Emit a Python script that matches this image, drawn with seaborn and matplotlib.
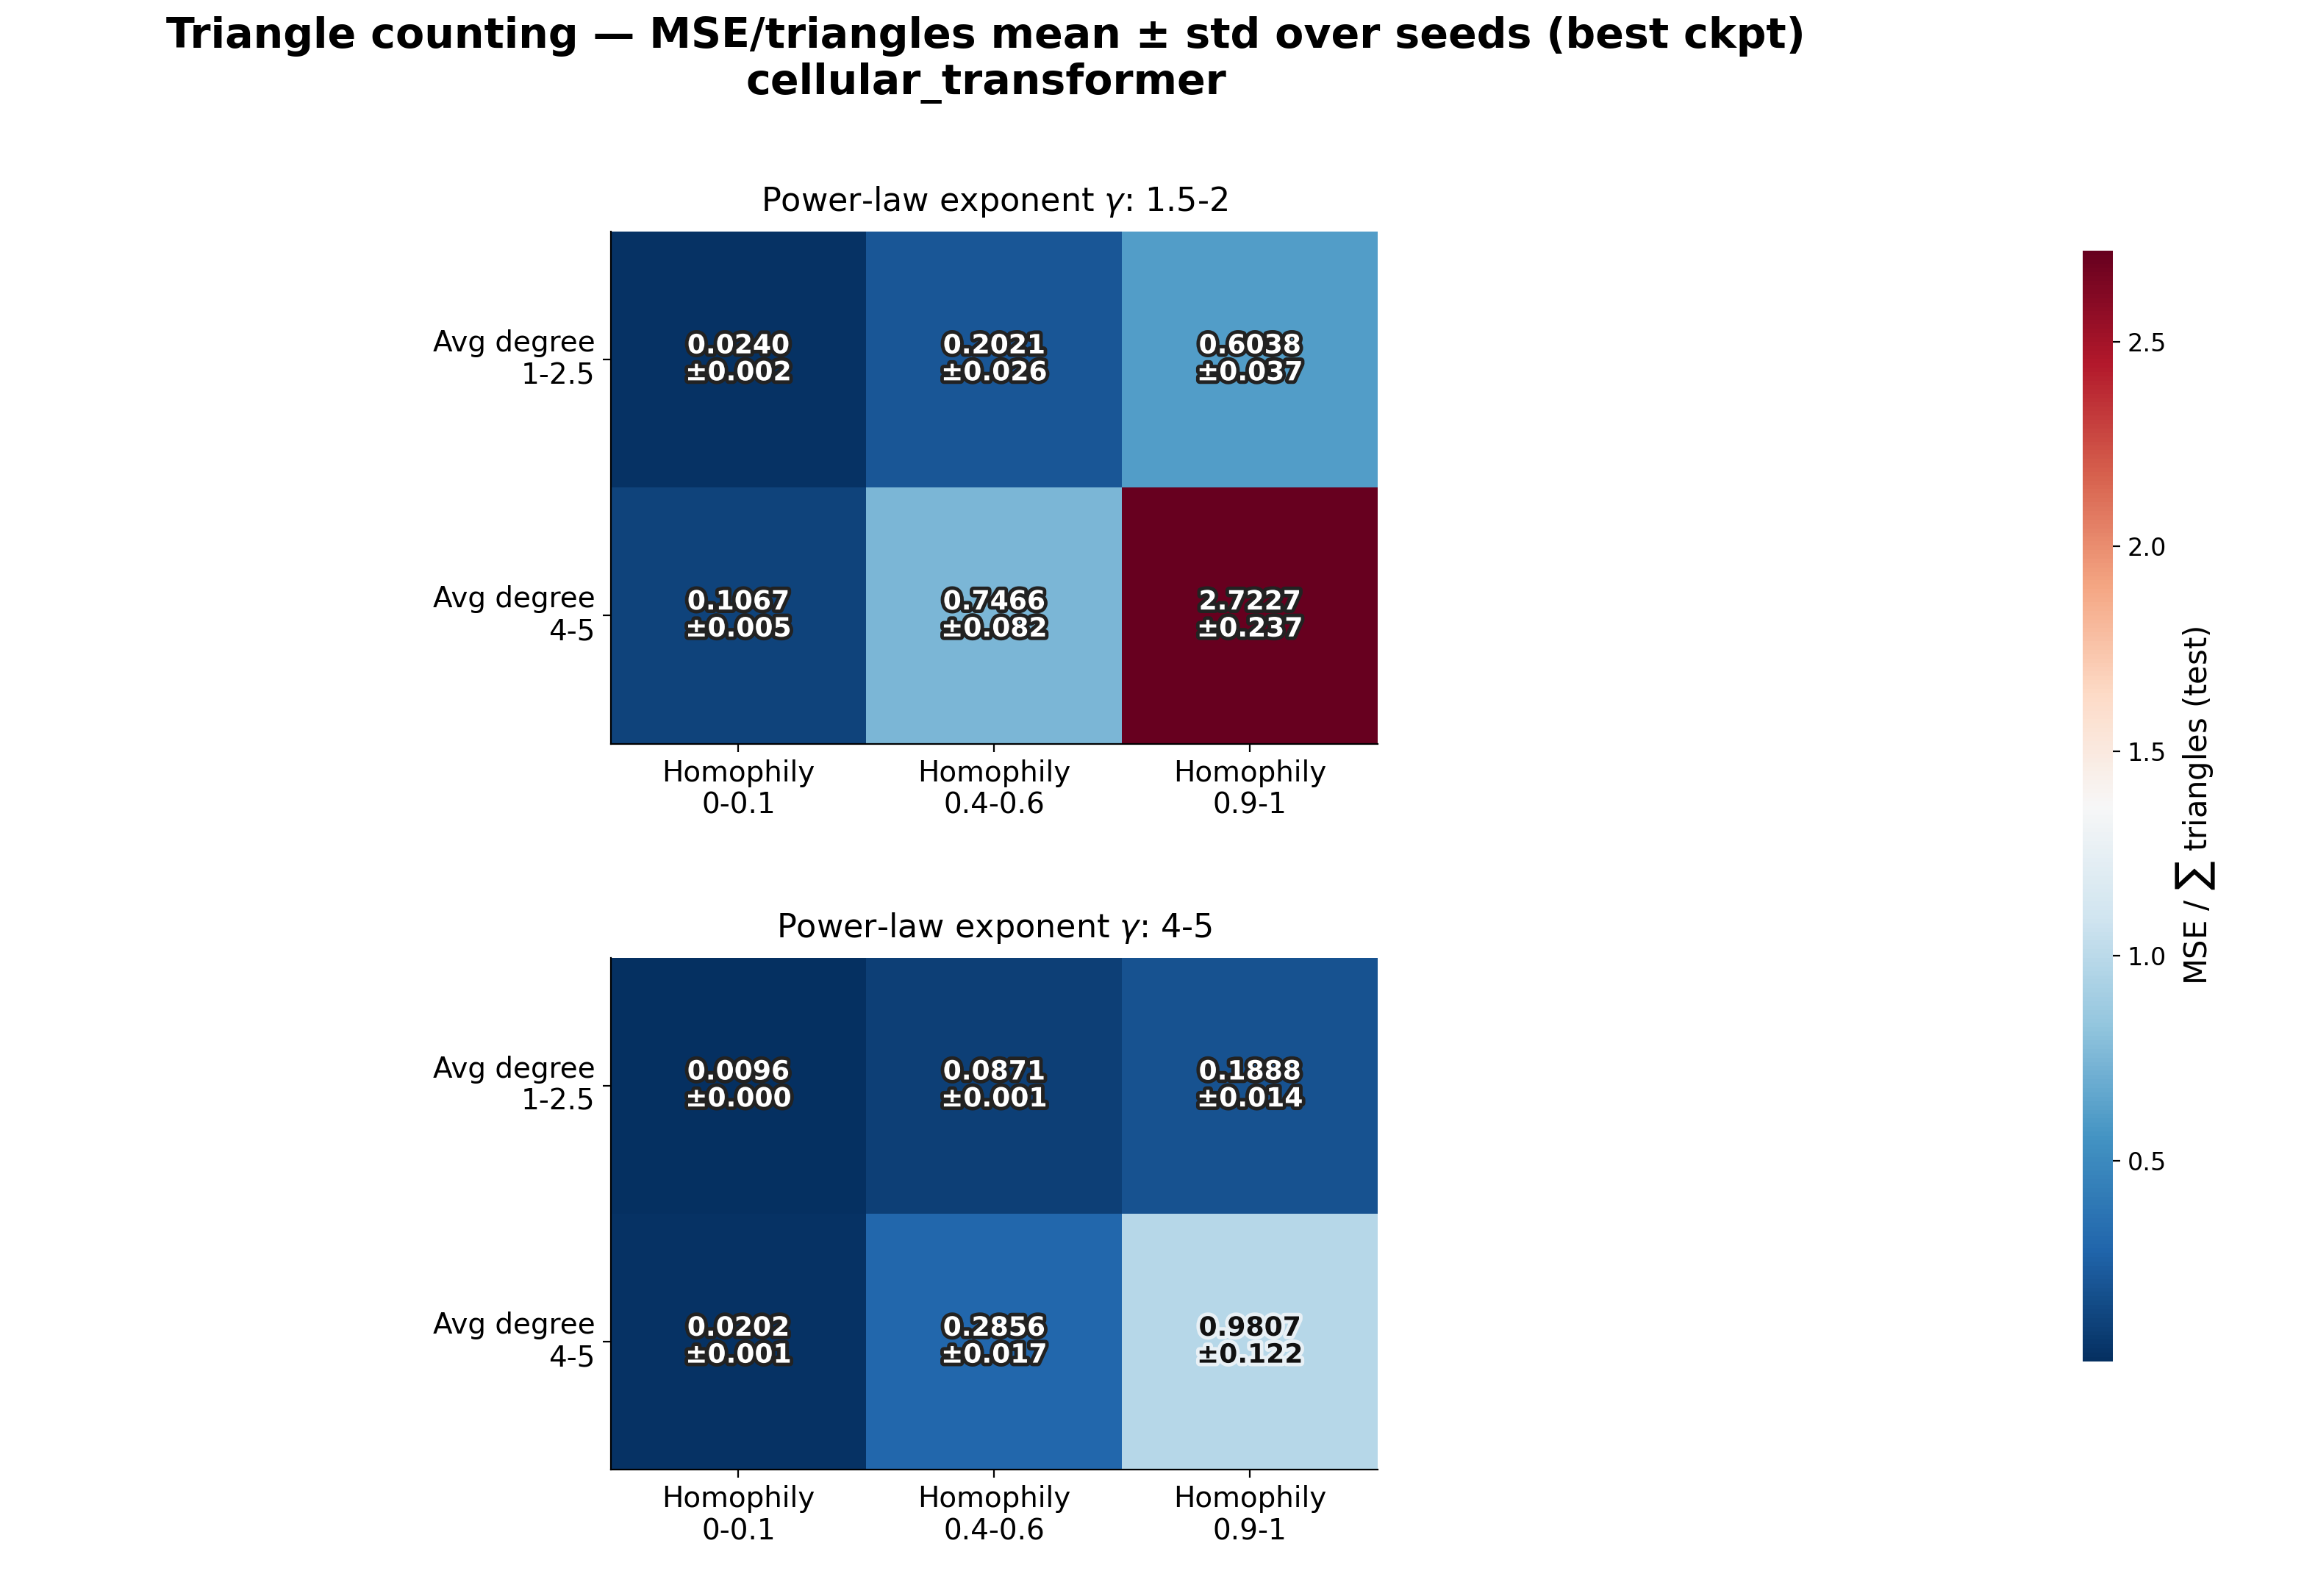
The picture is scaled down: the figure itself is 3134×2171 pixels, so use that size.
import matplotlib
matplotlib.use("Agg")
import matplotlib.pyplot as plt
import matplotlib.patheffects as pe
import numpy as np
import seaborn as sns

row_labels = ["Avg degree\n1-2.5", "Avg degree\n4-5"]
col_labels = ["Homophily\n0-0.1", "Homophily\n0.4-0.6", "Homophily\n0.9-1"]
gamma_labels = ["1.5-2", "4-5"]
mean_g1 = np.array([[0.0240, 0.2021, 0.6038], [0.1067, 0.7466, 2.7227]])
std_g1 = np.array([[0.002, 0.026, 0.037], [0.005, 0.082, 0.237]])
mean_g2 = np.array([[0.0096, 0.0871, 0.1888], [0.0202, 0.2856, 0.9807]])
std_g2 = np.array([[0.000, 0.001, 0.014], [0.001, 0.017, 0.122]])

means = [mean_g1, mean_g2]
stds = [std_g1, std_g2]
vmin = min(m.min() for m in means)
vmax = max(m.max() for m in means)
cmap = plt.get_cmap("RdBu_r")
norm = matplotlib.colors.Normalize(vmin, vmax)

fig = plt.figure(figsize=(15.67, 10.855), dpi=200)
axes = [fig.add_axes([0.265, 0.534, 0.333, 0.321]), fig.add_axes([0.265, 0.079, 0.333, 0.321])]
cax = fig.add_axes([0.904, 0.147, 0.013, 0.696])

for k, ax in enumerate(axes):
    sns.heatmap(means[k], ax=ax, cmap=cmap, vmin=vmin, vmax=vmax, cbar=(k == 0), cbar_ax=cax if k == 0 else None,
                xticklabels=col_labels, yticklabels=row_labels, annot=False)
    for i in range(2):
        for j in range(3):
            r, g, b, _ = cmap(norm(means[k][i, j]))
            lum = 0.299 * r + 0.587 * g + 0.114 * b
            fc, ec = ("#111111", "#e8f0f5") if lum > 0.75 else ("white", "#222222")
            ax.text(j + 0.5, i + 0.5, f"{means[k][i, j]:.4f}\n±{stds[k][i, j]:.3f}", ha="center", va="center",
                    fontsize=13, fontweight="bold", color=fc, linespacing=1.1,
                    path_effects=[pe.withStroke(linewidth=3.5, foreground=ec)])
    ax.set_title(f"Power-law exponent $\\gamma$: {gamma_labels[k]}", fontsize=16, pad=10)
    ax.tick_params(axis="both", labelsize=14, length=4)
    ax.set_yticklabels(row_labels, rotation=0, ha="right")
    ax.set_xticklabels(col_labels, rotation=0)
    ax.spines["left"].set_visible(True)
    ax.spines["bottom"].set_visible(True)

cbar = axes[0].collections[0].colorbar
cbar.set_label("MSE / $\\sum$ triangles (test)", fontsize=15)
cbar.ax.tick_params(labelsize=12)
cbar.set_ticks([0.5, 1.0, 1.5, 2.0, 2.5])

fig.suptitle("Triangle counting — MSE/triangles mean ± std over seeds (best ckpt)\ncellular_transformer",
             fontsize=20.5, fontweight="bold", x=0.428, y=0.99)
fig.savefig("out.png", dpi=200)
